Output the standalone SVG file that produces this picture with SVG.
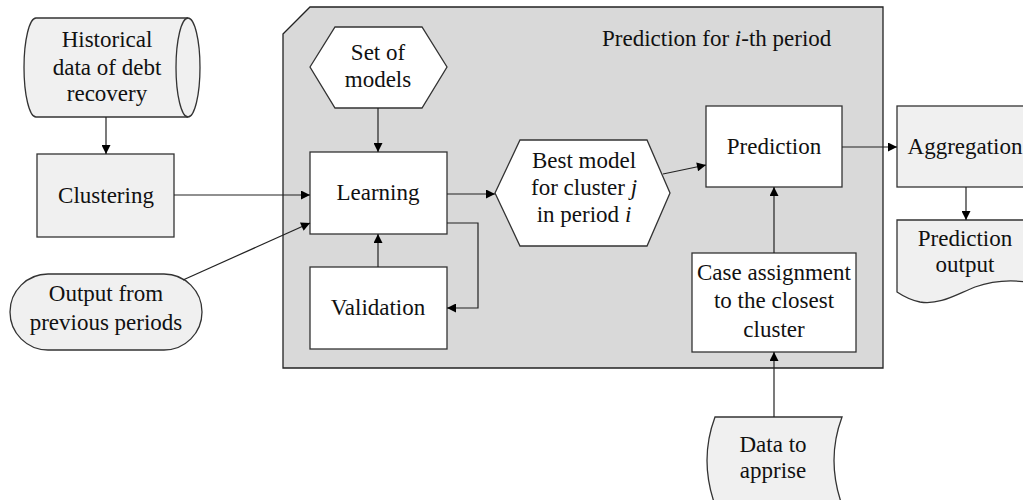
<svg xmlns="http://www.w3.org/2000/svg" width="1023" height="500" viewBox="0 0 1023 500">
  <defs>
    <marker id="arrow" viewBox="0 0 10 10" refX="10" refY="5" markerWidth="11" markerHeight="9" markerUnits="userSpaceOnUse" orient="auto">
      <path d="M0,0 L10,5 L0,10 Z" fill="#000"/>
    </marker>
    <style>
      text { font-size: 23px; fill: #111; text-anchor: middle; }
      .outer { fill: #f0f0f0; stroke: #333; stroke-width: 1.3; }
      .inner { fill: #ffffff; stroke: #333; stroke-width: 1.3; }
      .frame { fill: #d9d9d9; stroke: #222; stroke-width: 1.3; }
      .link { fill: none; stroke: #222; stroke-width: 1.2; marker-end: url(#arrow); }
      .it { font-style: italic; }
    </style>
  </defs>

  <rect width="1023" height="500" fill="#ffffff"/>

  <g font-family="Liberation Serif, DejaVu Serif, serif">
  <!-- container for the per-period prediction stage -->
  <g id="period-frame">
    <path class="frame" d="M283,34 L310,7 L883,7 L883,368 L283,368 Z"/>
    <text x="602" y="46" style="text-anchor:start">Prediction for <tspan class="it">i</tspan>-th period</text>
  </g>

  <g id="historical-data">
    <path class="outer" d="M36,18 L188,18 A12,49.5 0 0 1 188,117 L36,117 A12,49.5 0 0 1 36,18 Z"/>
    <path d="M188,18 A12,49.5 0 0 0 188,117" fill="none" stroke="#333" stroke-width="1.3"/>
    <text x="107" y="47">Historical</text>
    <text x="107" y="75">data of debt</text>
    <text x="107" y="101">recovery</text>
  </g>

  <g id="clustering">
    <rect class="outer" x="37" y="154" width="137" height="83"/>
    <text x="106" y="203">Clustering</text>
  </g>

  <g id="previous-output">
    <rect class="outer" x="10" y="274" width="192" height="76" rx="38" ry="38"/>
    <text x="106" y="301">Output from</text>
    <text x="106" y="330">previous periods</text>
  </g>

  <g id="set-of-models">
    <path class="inner" d="M310,67 L335,27 L422,27 L447,67 L422,108 L335,108 Z"/>
    <text x="378" y="60">Set of</text>
    <text x="378" y="87">models</text>
  </g>

  <g id="learning">
    <rect class="inner" x="310" y="152" width="137" height="82"/>
    <text x="378" y="200">Learning</text>
  </g>

  <g id="validation">
    <rect class="inner" x="310" y="267" width="137" height="82"/>
    <text x="378" y="315">Validation</text>
  </g>

  <g id="best-model">
    <path class="inner" d="M495,193 L520,140 L647,140 L670,193 L647,246 L520,246 Z"/>
    <text x="584" y="168">Best model</text>
    <text x="584" y="195">for cluster <tspan class="it">j</tspan></text>
    <text x="584" y="222">in period <tspan class="it">i</tspan></text>
  </g>

  <g id="prediction">
    <rect class="inner" x="706" y="106" width="136" height="81"/>
    <text x="774" y="154">Prediction</text>
  </g>

  <g id="case-assignment">
    <rect class="inner" x="692" y="253" width="164" height="99"/>
    <text x="774" y="280">Case assignment</text>
    <text x="774" y="308">to the closest</text>
    <text x="774" y="337">cluster</text>
  </g>

  <g id="aggregation">
    <rect class="outer" x="897" y="106" width="140" height="81"/>
    <text x="965" y="154">Aggregation</text>
  </g>

  <g id="prediction-output">
    <path class="outer" d="M897,220 L1037,220 L1037,284 C1015,279 995,280 975,287 C955,295 940,305 920,302 C910,300 903,296 897,292 Z"/>
    <text x="965" y="246">Prediction</text>
    <text x="965" y="272">output</text>
  </g>

  <g id="data-to-apprise">
    <path class="outer" d="M715,417 L842,417 Q826,460 842,505 L715,505 Q699,460 715,417 Z"/>
    <text x="773" y="452">Data to</text>
    <text x="773" y="478">apprise</text>
  </g>
  </g>

  <g id="connectors">
    <line class="link" x1="106" y1="117" x2="106" y2="154"/>
    <line class="link" x1="174" y1="195" x2="310" y2="195"/>
    <line class="link" x1="183" y1="280" x2="310" y2="223"/>
    <line class="link" x1="378" y1="108" x2="378" y2="152"/>
    <line class="link" x1="378" y1="267" x2="378" y2="234"/>
    <polyline class="link" points="447,223 478,223 478,308 447,308"/>
    <line class="link" x1="447" y1="194" x2="495" y2="194"/>
    <line class="link" x1="663" y1="174" x2="706" y2="165"/>
    <line class="link" x1="842" y1="147" x2="897" y2="147"/>
    <line class="link" x1="966" y1="187" x2="966" y2="220"/>
    <line class="link" x1="774" y1="253" x2="774" y2="187"/>
    <line class="link" x1="774" y1="417" x2="774" y2="352"/>
  </g>
</svg>
